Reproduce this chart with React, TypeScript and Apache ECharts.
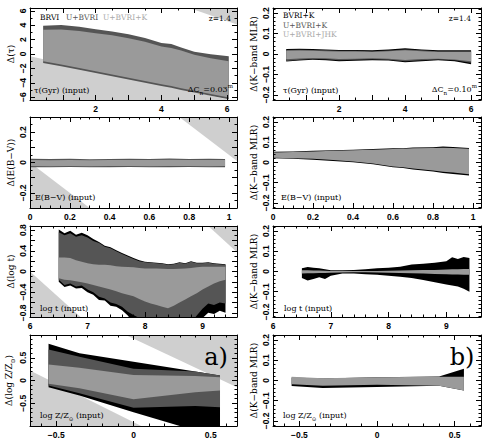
import React, { useEffect, useRef } from 'react';
import * as echarts from 'echarts';

// ---------- colours ----------
const COL_BLACK = '#000000';
const COL_DARK = '#555555';
const COL_GREY = '#9a9a9a';
const COL_LIMIT = '#cfcfcf';
const LEG_LIGHT = '#a8a8a8';

// ---------- panel 1 : Δ(τ) vs τ ----------
const tauIn = [0.4, 0.95, 1.5, 2.0, 2.5, 3.0, 3.5, 4.0, 4.3, 4.6, 5.0, 5.5, 6.05];
const dTauDarkHi = [3.92, 4.05, 3.8, 3.46, 3.13, 2.76, 2.21, 1.52, 1.38, 0.9, 0.3, -0.05, -0.32];
const dTauDarkLo = [-1.25, -1.7, -2.2, -2.65, -3.1, -3.55, -4.0, -4.45, -4.7, -5.0, -5.35, -5.8, -6.3];
const dTauGreyHi = [3.36, 3.4, 3.2, 2.9, 2.6, 2.2, 1.7, 1.05, 0.85, 0.5, -0.1, -0.6, -1.0];
const dTauGreyLo = [-1.0, -1.45, -1.95, -2.4, -2.85, -3.3, -3.75, -4.2, -4.45, -4.75, -5.1, -5.55, -6.05];
const tauLowLimit = [[0, -0.3], [0, -6.4], [6.1, -6.4]];
const tauHighLimit = [[4.85, 6.4], [6.3, 6.4], [6.3, 4.1]];

// ---------- panel 2 : Δ(K MLR) vs τ ----------
const tauIn2 = [0.4, 0.8, 1.2, 1.6, 2.0, 2.5, 3.0, 3.5, 4.0, 4.5, 5.0, 5.5, 6.0];
const mlTauBlackHi = [0.024, 0.026, 0.025, 0.022, 0.02, 0.02, 0.018, 0.022, 0.028, 0.022, 0.018, 0.018, 0.018];
const mlTauBlackLo = [-0.037, -0.032, -0.028, -0.03, -0.035, -0.033, -0.03, -0.032, -0.04, -0.035, -0.03, -0.035, -0.05];
const mlTauDarkHi = [0.02, 0.021, 0.02, 0.018, 0.016, 0.016, 0.014, 0.017, 0.022, 0.018, 0.014, 0.014, 0.014];
const mlTauDarkLo = [-0.034, -0.028, -0.024, -0.026, -0.03, -0.028, -0.026, -0.028, -0.035, -0.03, -0.027, -0.031, -0.043];
const mlTauGreyHi = [0.016, 0.017, 0.016, 0.014, 0.012, 0.012, 0.01, 0.013, 0.018, 0.014, 0.01, 0.01, 0.01];
const mlTauGreyLo = [-0.026, -0.022, -0.019, -0.021, -0.025, -0.023, -0.021, -0.023, -0.029, -0.025, -0.023, -0.027, -0.036];

// ---------- panel 3 : Δ(E(B-V)) vs E(B-V) ----------
const ebvIn = [0, 0.1, 0.2, 0.3, 0.4, 0.5, 0.6, 0.7, 0.8, 0.9, 0.98];
const dEbvDarkHi = [0.025, 0.023, 0.024, 0.022, 0.023, 0.024, 0.023, 0.027, 0.023, 0.024, 0.023];
const dEbvDarkLo = [-0.031, -0.031, -0.03, -0.031, -0.031, -0.03, -0.031, -0.031, -0.03, -0.031, -0.031];
const dEbvGreyHi = [0.017, 0.015, 0.016, 0.015, 0.016, 0.017, 0.016, 0.018, 0.016, 0.017, 0.016];
const dEbvGreyLo = [-0.023, -0.024, -0.023, -0.024, -0.023, -0.023, -0.024, -0.023, -0.023, -0.024, -0.023];
const ebvLowLimit = [[0, 0], [0, -0.3], [0.3, -0.3]];
const ebvHighLimit = [[0.75, 0.3], [1.04, 0.3], [1.04, 0.01]];

// ---------- panel 4 : Δ(K MLR) vs E(B-V) ----------
const ebvIn4 = [0, 0.1, 0.2, 0.3, 0.4, 0.5, 0.6, 0.65, 0.7, 0.8, 0.85, 0.9, 0.98];
const mlEbvBlackHi = [0.053, 0.055, 0.058, 0.061, 0.063, 0.067, 0.071, 0.07, 0.074, 0.076, 0.079, 0.077, 0.072];
const mlEbvBlackLo = [0.021, 0.018, 0.014, 0.008, 0.001, -0.009, -0.024, -0.027, -0.034, -0.045, -0.052, -0.057, -0.064];
const mlEbvGreyHi = [0.05, 0.052, 0.055, 0.058, 0.06, 0.063, 0.067, 0.068, 0.07, 0.072, 0.073, 0.072, 0.068];
const mlEbvGreyLo = [0.024, 0.021, 0.018, 0.012, 0.005, -0.005, -0.02, -0.024, -0.03, -0.04, -0.046, -0.05, -0.058];

// ---------- panel 5 : Δ(log t) vs log t ----------
const logtIn = [6.5, 6.6, 6.7, 6.8, 6.9, 7.0, 7.1, 7.2, 7.3, 7.4, 7.5, 7.6, 7.7, 7.8, 7.9, 8.0, 8.1, 8.2, 8.3, 8.4, 8.5, 8.6, 8.7, 8.8, 8.9, 9.0, 9.1, 9.2, 9.3, 9.4];
const dLogtBlackHi = [0.81, 0.74, 0.79, 0.71, 0.75, 0.7, 0.63, 0.57, 0.5, 0.47, 0.41, 0.36, 0.31, 0.26, 0.22, 0.19, 0.18, 0.17, 0.16, 0.14, 0.15, 0.18, 0.16, 0.2, 0.17, 0.17, 0.18, 0.16, 0.15, 0.14];
const dLogtBlackLo = [-0.2, -0.3, -0.27, -0.33, -0.32, -0.4, -0.45, -0.55, -0.56, -0.66, -0.68, -0.75, -0.85, -1.0, -1.0, -1.0, -1.0, -1.0, -1.0, -1.0, -1.0, -1.0, -1.0, -1.0, -1.0, -0.9, -0.8, -0.82, -0.76, -0.8];
const dLogtDarkHi = [0.76, 0.7, 0.74, 0.67, 0.7, 0.66, 0.59, 0.55, 0.48, 0.45, 0.39, 0.34, 0.29, 0.24, 0.2, 0.18, 0.17, 0.16, 0.15, 0.13, 0.14, 0.17, 0.15, 0.19, 0.16, 0.16, 0.17, 0.15, 0.14, 0.13];
const dLogtDarkLo = [-0.16, -0.26, -0.23, -0.29, -0.27, -0.35, -0.4, -0.49, -0.52, -0.6, -0.63, -0.68, -0.78, -0.84, -0.9, -1.0, -1.0, -1.0, -1.0, -1.0, -1.0, -1.0, -1.0, -1.0, -0.85, -0.72, -0.62, -0.65, -0.6, -0.62];
const dLogtGreyHi = [0.27, 0.27, 0.26, 0.22, 0.19, 0.16, 0.14, 0.13, 0.13, 0.12, 0.1, 0.09, 0.085, 0.08, 0.07, 0.06, 0.06, 0.06, 0.055, 0.05, 0.05, 0.055, 0.06, 0.07, 0.08, 0.09, 0.09, 0.09, 0.09, 0.09];
const dLogtGreyLo = [-0.13, -0.16, -0.17, -0.19, -0.21, -0.23, -0.26, -0.29, -0.32, -0.35, -0.38, -0.42, -0.45, -0.48, -0.53, -0.58, -0.62, -0.65, -0.68, -0.71, -0.66, -0.6, -0.54, -0.48, -0.42, -0.35, -0.29, -0.23, -0.19, -0.16];
const logtLowLimit = [[6, 0], [6, -0.88], [6.88, -0.88]];
const logtHighLimit = [[9.1, 0.88], [9.6, 0.88], [9.6, 0.37]];

// ---------- panel 6 : Δ(K MLR) vs log t ----------
const logtIn6 = [6.5, 6.6, 6.7, 6.8, 6.9, 7.0, 7.2, 7.4, 7.6, 7.8, 8.0, 8.2, 8.4, 8.6, 8.8, 9.0, 9.1, 9.2, 9.3, 9.4];
const mlLogtBlackHi = [0.016, 0.022, 0.019, 0.016, 0.011, 0.006, 0.006, 0.008, 0.011, 0.016, 0.019, 0.024, 0.035, 0.038, 0.043, 0.051, 0.07, 0.062, 0.072, 0.067];
const mlLogtBlackLo = [-0.032, -0.045, -0.037, -0.029, -0.037, -0.021, -0.01, -0.01, -0.013, -0.016, -0.021, -0.026, -0.032, -0.042, -0.053, -0.064, -0.069, -0.074, -0.085, -0.1];
const mlLogtGreyHi = [0.006, 0.006, 0.005, 0.005, 0.004, 0.003, 0.003, 0.002, 0.002, 0.003, 0.004, 0.005, 0.006, 0.007, 0.008, 0.01, 0.011, 0.011, 0.012, 0.012];
const mlLogtGreyLo = [-0.01, -0.009, -0.009, -0.008, -0.007, -0.006, -0.005, -0.004, -0.004, -0.005, -0.006, -0.007, -0.009, -0.01, -0.012, -0.014, -0.015, -0.015, -0.016, -0.016];

// ---------- panel 7 : Δ(log Z) vs log Z ----------
const logzIn = [-0.55, -0.35, 0, 0.4, 0.56];
const dLogzBlackHi = [0.81, 0.6, 0.41, 0.2, 0.11];
const dLogzBlackLo = [-0.15, -0.33, -0.7, -1.1, -1.1];
const dLogzDarkHi = [0.68, 0.52, 0.26, 0.2, 0.11];
const dLogzDarkLo = [-0.11, -0.28, -0.6, -0.56, -0.59];
const dLogzGreyHi = [0.35, 0.28, 0.12, 0.1, 0.07];
const dLogzGreyLo = [-0.07, -0.17, -0.41, -0.26, -0.22];
const logzLowLimit = [[-0.67, 0.22], [-0.67, -1], [0.05, -1]];
const logzHighLimit = [[-0.05, 1], [0.67, 1], [0.67, -0.15]];

// ---------- panel 8 : Δ(K MLR) vs log Z ----------
const logzIn8 = [-0.55, -0.35, 0, 0.4, 0.56];
const mlLogzBlackHi = [0.015, 0.01, 0.016, 0.02, 0.058];
const mlLogzBlackLo = [-0.027, -0.037, -0.032, -0.026, -0.05];
const mlLogzGreyHi = [0.019, 0.011, 0.016, 0.019, 0.019];
const mlLogzGreyLo = [-0.018, -0.026, -0.021, -0.026, -0.05];

// ---------- tick labels ----------
const tauTickLabels = [2, 4, 6];
const tauMajor = [0, 1, 2, 3, 4, 5, 6];
const dTauTickLabels = [-6, -4, -2, 0, 2, 4, 6];
const mlTickLabels = [-0.2, -0.1, 0, 0.1, 0.2];
const ebvTickLabels = [0, 0.2, 0.4, 0.6, 0.8, 1];
const dEbvTickLabels = [-0.2, 0, 0.2];
const dEbvMajor = [-0.2, -0.1, 0, 0.1, 0.2];
const logtTickLabels = [6, 7, 8, 9];
const dLogtTickLabels = [-0.8, -0.4, 0, 0.4, 0.8];
const dLogtMajor = [-0.8, -0.6, -0.4, -0.2, 0, 0.2, 0.4, 0.6, 0.8];
const logzTickLabels = [-0.5, 0, 0.5];
const dLogzTickLabels = [-0.5, 0, 0.5];

function steps(a: number, b: number, step: number): number[] {
  const out: number[] = [];
  const n = Math.round((b - a) / step);
  for (let i = 0; i <= n; i++) out.push(Math.round((a + i * step) * 1e6) / 1e6);
  return out;
}

function fmtTick(v: number): string {
  const r = Math.round(v * 1000) / 1000;
  if (Math.abs(r) < 1e-9) return '0';
  return (r < 0 ? '\u2212' : '') + String(Math.abs(r));
}

const LABEL_FONT = { fontFamily: 'Liberation Sans, Arial, sans-serif', fontWeight: 'bold', fontSize: 8.5, color: '#000' };
const SERIF = 'DejaVu Serif, serif';

const COLS = [{ left: 30, width: 207 }, { left: 273, width: 208 }];
const ROWS = [{ top: 8, height: 92 }, { top: 117, height: 91 }, { top: 226, height: 91 }, { top: 335, height: 91 }];

function makeAxes(dim: 'x' | 'y', g: number, min: number, max: number, major: number[], minor: number[], labels: number[], nameOpt?: any) {
  const sides = dim === 'x' ? ['bottom', 'top'] : ['left', 'right'];
  const base = { type: 'value', gridIndex: g, min, max, splitLine: { show: false }, splitArea: { show: false }, z: 10, silent: true };
  const list: any[] = [];
  sides.forEach((pos, si) => {
    list.push({
      ...base,
      position: pos,
      axisLine: { show: true, onZero: false, lineStyle: { color: '#000', width: 1 } },
      axisTick: { show: true, inside: true, length: 5, customValues: major, lineStyle: { color: '#000', width: 1 } },
      axisLabel: si === 0
        ? { show: true, customValues: labels, formatter: fmtTick, margin: dim === 'x' ? 4 : 3, rotate: dim === 'y' ? 90 : 0, ...LABEL_FONT }
        : { show: false },
      ...(si === 0 && nameOpt ? nameOpt : {}),
    });
    list.push({
      ...base,
      position: pos,
      axisLine: { show: false, onZero: false },
      axisTick: { show: true, inside: true, length: 2.5, customValues: minor, lineStyle: { color: '#000', width: 1 } },
      axisLabel: { show: false },
    });
  });
  return list;
}

function yName(name: string, gap: number) {
  return {
    name,
    nameLocation: 'middle',
    nameGap: gap,
    nameRotate: 90,
    nameTextStyle: {
      fontFamily: SERIF, fontSize: 9, color: '#000',
      rich: { s: { fontFamily: SERIF, fontSize: 6, color: '#000', verticalAlign: 'bottom', lineHeight: 12 } },
    },
  };
}

function polySeries(g: number, pts: number[][], color: string) {
  return {
    type: 'custom', xAxisIndex: 4 * g, yAxisIndex: 4 * g, clip: true, silent: true,
    data: pts,
    renderItem: (params: any, api: any) => {
      if (params.dataIndex !== 0) return null;
      const points = pts.map((p) => api.coord(p));
      return { type: 'polygon', shape: { points }, style: { fill: color, stroke: null } };
    },
  };
}

function bandSeries(g: number, xs: number[], lo: number[], hi: number[], color: string) {
  const data = xs.map((x, i) => [x, lo[i], hi[i]]);
  return {
    type: 'custom', xAxisIndex: 4 * g, yAxisIndex: 4 * g, clip: true, silent: true,
    data,
    renderItem: (params: any, api: any) => {
      if (params.dataIndex !== 0) return null;
      const top = data.map((d) => api.coord([d[0], d[2]]));
      const bot = data.map((d) => api.coord([d[0], d[1]])).reverse();
      return { type: 'polygon', shape: { points: top.concat(bot) }, style: { fill: color, stroke: null } };
    },
  };
}

function txt(x: number, y: number, text: string, opts: any = {}) {
  const align = opts.align || 'left';
  return {
    type: 'text', x, y, z: 50, silent: true,
    style: {
      text, fill: opts.fill || '#000', fontFamily: opts.font || SERIF, fontSize: opts.size || 7.5,
      align, textAlign: align, verticalAlign: 'middle', textVerticalAlign: 'middle',
      rich: {
        s: { fontFamily: opts.font || SERIF, fontSize: (opts.size || 8) * 0.7, fill: opts.fill || '#000', verticalAlign: 'bottom', lineHeight: 13 },
        p: { fontFamily: opts.font || SERIF, fontSize: (opts.size || 8) * 0.7, fill: opts.fill || '#000', verticalAlign: 'top', lineHeight: 13 },
      },
    },
  };
}

export default function App() {
  const ref = useRef<HTMLDivElement>(null);
  useEffect(() => {
    if (!ref.current) return;
    const chart = echarts.init(ref.current, undefined, { renderer: 'svg' });

    const grids: any[] = [];
    for (let r = 0; r < 4; r++) for (let c = 0; c < 2; c++) {
      grids.push({ left: COLS[c].left, width: COLS[c].width, top: ROWS[r].top, height: ROWS[r].height, show: false, containLabel: false, outerBoundsMode: 'none' });
    }

    const xAxis: any[] = [];
    const yAxis: any[] = [];
    const mlName = 'Δ(K\u2212band MLR)';
    xAxis.push(...makeAxes('x', 0, 0, 6.3, tauMajor, steps(0, 6, 0.5), tauTickLabels));
    yAxis.push(...makeAxes('y', 0, -6.4, 6.4, dTauTickLabels, steps(-6, 6, 1), dTauTickLabels, yName('Δ(τ)', 15)));
    xAxis.push(...makeAxes('x', 1, 0, 6.3, tauMajor, steps(0, 6, 0.5), tauTickLabels));
    yAxis.push(...makeAxes('y', 1, -0.225, 0.225, mlTickLabels, steps(-0.22, 0.22, 0.02), mlTickLabels, yName(mlName, 15)));
    xAxis.push(...makeAxes('x', 2, 0, 1.04, ebvTickLabels, steps(0, 1, 0.05), ebvTickLabels));
    yAxis.push(...makeAxes('y', 2, -0.3, 0.3, dEbvMajor, steps(-0.3, 0.3, 0.05), dEbvTickLabels, yName('Δ(E(B\u2212V))', 15)));
    xAxis.push(...makeAxes('x', 3, 0, 1.04, ebvTickLabels, steps(0, 1, 0.05), ebvTickLabels));
    yAxis.push(...makeAxes('y', 3, -0.225, 0.225, mlTickLabels, steps(-0.22, 0.22, 0.02), mlTickLabels, yName(mlName, 15)));
    xAxis.push(...makeAxes('x', 4, 6, 9.6, logtTickLabels, steps(6, 9.6, 0.2), logtTickLabels));
    yAxis.push(...makeAxes('y', 4, -0.88, 0.88, dLogtMajor, steps(-0.8, 0.8, 0.1), dLogtTickLabels, yName('Δ(log t)', 15)));
    xAxis.push(...makeAxes('x', 5, 6, 9.6, logtTickLabels, steps(6, 9.6, 0.2), logtTickLabels));
    yAxis.push(...makeAxes('y', 5, -0.225, 0.225, mlTickLabels, steps(-0.22, 0.22, 0.02), mlTickLabels, yName(mlName, 15)));
    xAxis.push(...makeAxes('x', 6, -0.67, 0.67, logzTickLabels, steps(-0.6, 0.6, 0.1), logzTickLabels));
    yAxis.push(...makeAxes('y', 6, -1, 1, dLogzTickLabels, steps(-0.9, 0.9, 0.1), dLogzTickLabels, yName('Δ(log Z/Z{s|⊙})', 15)));
    xAxis.push(...makeAxes('x', 7, -0.67, 0.67, logzTickLabels, steps(-0.6, 0.6, 0.1), logzTickLabels));
    yAxis.push(...makeAxes('y', 7, -0.225, 0.225, mlTickLabels, steps(-0.22, 0.22, 0.02), mlTickLabels, yName(mlName, 15)));

    const series: any[] = [
      polySeries(0, tauLowLimit, COL_LIMIT),
      polySeries(0, tauHighLimit, COL_LIMIT),
      bandSeries(0, tauIn, dTauDarkLo, dTauDarkHi, COL_DARK),
      bandSeries(0, tauIn, dTauGreyLo, dTauGreyHi, COL_GREY),

      bandSeries(1, tauIn2, mlTauBlackLo, mlTauBlackHi, COL_BLACK),
      bandSeries(1, tauIn2, mlTauDarkLo, mlTauDarkHi, COL_DARK),
      bandSeries(1, tauIn2, mlTauGreyLo, mlTauGreyHi, COL_GREY),

      polySeries(2, ebvLowLimit, COL_LIMIT),
      polySeries(2, ebvHighLimit, COL_LIMIT),
      bandSeries(2, ebvIn, dEbvDarkLo, dEbvDarkHi, COL_DARK),
      bandSeries(2, ebvIn, dEbvGreyLo, dEbvGreyHi, COL_GREY),

      bandSeries(3, ebvIn4, mlEbvBlackLo, mlEbvBlackHi, COL_BLACK),
      bandSeries(3, ebvIn4, mlEbvGreyLo, mlEbvGreyHi, COL_GREY),

      polySeries(4, logtLowLimit, COL_LIMIT),
      polySeries(4, logtHighLimit, COL_LIMIT),
      bandSeries(4, logtIn, dLogtBlackLo, dLogtBlackHi, COL_BLACK),
      bandSeries(4, logtIn, dLogtDarkLo, dLogtDarkHi, COL_DARK),
      bandSeries(4, logtIn, dLogtGreyLo, dLogtGreyHi, COL_GREY),

      bandSeries(5, logtIn6, mlLogtBlackLo, mlLogtBlackHi, COL_BLACK),
      bandSeries(5, logtIn6, mlLogtGreyLo, mlLogtGreyHi, COL_GREY),

      polySeries(6, logzLowLimit, COL_LIMIT),
      polySeries(6, logzHighLimit, COL_LIMIT),
      bandSeries(6, logzIn, dLogzBlackLo, dLogzBlackHi, COL_BLACK),
      bandSeries(6, logzIn, dLogzDarkLo, dLogzDarkHi, COL_DARK),
      bandSeries(6, logzIn, dLogzGreyLo, dLogzGreyHi, COL_GREY),

      bandSeries(7, logzIn8, mlLogzBlackLo, mlLogzBlackHi, COL_BLACK),
      bandSeries(7, logzIn8, mlLogzGreyLo, mlLogzGreyHi, COL_GREY),
    ];

    const graphic: any[] = [
      txt(40, 17, 'BRVI', { fill: '#000' }),
      txt(66, 17, 'U+BVRI', { fill: COL_DARK }),
      txt(103, 17, 'U+BVRI+K', { fill: LEG_LIGHT }),
      txt(231, 18, 'z=1.4', { align: 'right' }),
      txt(34, 90, 'τ(Gyr) (input)', { size: 8 }),
      txt(233, 89, 'ΔC{s|n}=0.03{p|m}', { size: 8, align: 'right' }),

      txt(283, 15, 'BVRI+K', { fill: '#000' }),
      txt(283, 25, 'U+BVRI+K', { fill: COL_DARK }),
      txt(283, 34, 'U+BVRI+JHK', { fill: LEG_LIGHT }),
      txt(471, 18, 'z=1.4', { align: 'right' }),
      txt(283, 90, 'τ(Gyr) (input)', { size: 8 }),
      txt(477, 89, 'ΔC{s|n}=0.10{p|m}', { size: 8, align: 'right' }),

      txt(35, 197, 'E(B\u2212V) (input)', { size: 8 }),
      txt(281, 197, 'E(B\u2212V) (input)', { size: 8 }),
      txt(40, 308, 'log t (input)', { size: 8 }),
      txt(284, 308, 'log t (input)', { size: 8 }),
      txt(40, 415, 'log Z/Z{s|⊙} (input)', { size: 8 }),
      txt(283, 415, 'log Z/Z{s|⊙} (input)', { size: 8 }),

      txt(216, 357, 'a)', { size: 24, align: 'center' }),
      txt(462, 357, 'b)', { size: 24, align: 'center' }),
    ];

    chart.setOption({
      animation: false,
      backgroundColor: '#fff',
      grid: grids,
      xAxis,
      yAxis,
      series,
      graphic,
    });
    return () => chart.dispose();
  }, []);

  return <div ref={ref} style={{ position: 'fixed', left: 0, top: 0, width: 488, height: 445 }} />;
}
